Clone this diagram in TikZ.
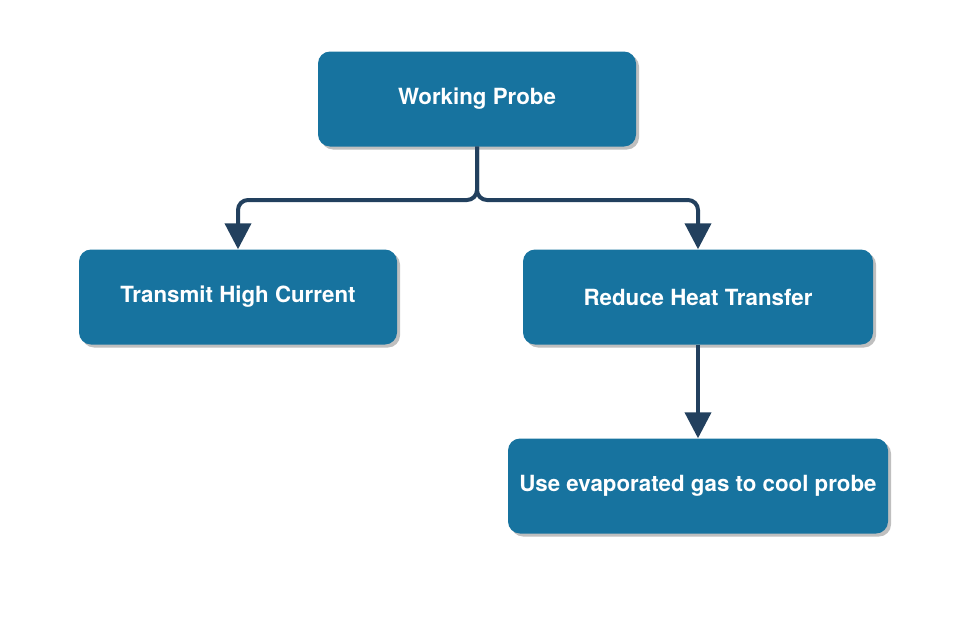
\documentclass[tikz,border=0pt]{standalone}
\usepackage{fontspec}
\setmainfont{TeX Gyre Heros}
\usetikzlibrary{positioning, arrows.meta, shadows}
\definecolor{probeblue}{HTML}{17739F}
\definecolor{linknavy}{HTML}{22405E}

\begin{document}
\begin{tikzpicture}[x=1pt, y=-1pt]
        \tikzstyle{box} = [rectangle, rounded corners=12pt, minimum height=95pt, text centered, fill=probeblue, text=white, font=\bfseries\fontsize{22.3}{26}\selectfont, drop shadow={shadow xshift=3pt, shadow yshift=-3pt, fill=black!25, opacity=1}]
        \tikzstyle{arrow} = [line width=4pt, draw=linknavy, -{Triangle[width=26pt, length=26pt]}, rounded corners=10pt]

        \useasboundingbox (0,0) rectangle (975,629);

        \node (probe) [box, minimum width=318pt] at (477,99) {Working Probe};
        \node (current) [box, minimum width=318pt] at (238,297) {Transmit High Current};
        \node (heat) [box, minimum width=350pt] at (698,297) {Reduce Heat Transfer};
        \node (gas) [box, minimum width=380pt] at (698,486) {Use evaporated gas to cool probe};
        \coordinate (split) at (477,200);

        \draw [arrow] (probe.south) -- (split) -| (current.north);
        \draw [arrow] (probe.south) -- (split) -| (heat.north);
        \draw [arrow] (heat.south) -- (gas.north);
    \end{tikzpicture}
\end{document}
